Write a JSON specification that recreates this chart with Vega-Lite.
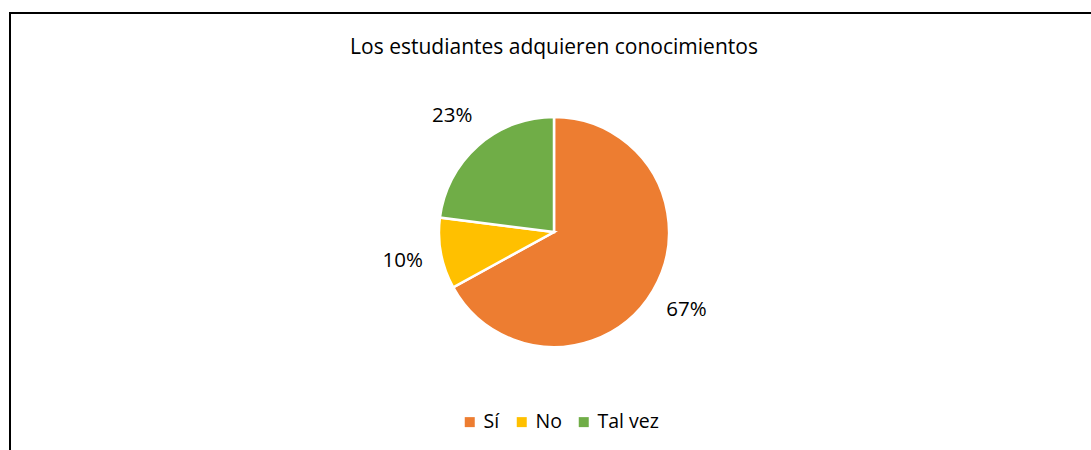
{
  "$schema": "https://vega.github.io/schema/vega-lite/v6.json",
  "autosize": "none",
  "width": 1088,
  "height": 438,
  "padding": {"left": 10, "top": 13, "right": 0, "bottom": 0},
  "background": "white",
  "view": {"stroke": "black", "strokeWidth": 2, "fill": "white"},
  "config": {
    "view": {"stroke": "black", "strokeWidth": 2},
    "font": "Open Sans"
  },
  "title": {
    "text": "Los estudiantes adquieren conocimientos",
    "font": "Open Sans",
    "fontSize": 21,
    "fontWeight": "normal",
    "color": "#000000",
    "anchor": "middle",
    "frame": "group",
    "baseline": "alphabetic",
    "offset": -62
  },
  "data": {
    "values": [
      {"respuesta": "Sí", "porcentaje": 67, "etiqueta": "67%", "orden": 1},
      {"respuesta": "No", "porcentaje": 10, "etiqueta": "10%", "orden": 2},
      {"respuesta": "Tal vez", "porcentaje": 23, "etiqueta": "23%", "orden": 3}
    ]
  },
  "encoding": {
    "theta": {"field": "porcentaje", "type": "quantitative", "stack": true},
    "order": {"field": "orden", "type": "quantitative"},
    "color": {
      "field": "respuesta",
      "type": "nominal",
      "scale": {"domain": ["Sí", "No", "Tal vez"], "range": ["#ED7D31", "#FFC000", "#70AD47"]},
      "legend": {
        "title": null,
        "orient": "none",
        "direction": "horizontal",
        "legendX": 450,
        "legendY": 399,
        "symbolType": "square",
        "symbolSize": 100,
        "symbolStrokeWidth": 0,
        "labelFont": "Open Sans",
        "labelFontSize": 19.5,
        "labelColor": "#000000",
        "labelOffset": 4,
        "columnPadding": 12
      }
    }
  },
  "layer": [
    {
      "mark": {"type": "arc", "outerRadius": 115, "stroke": "white", "strokeWidth": 2.5}
    },
    {
      "mark": {"type": "text", "radius": 154, "fontSize": 20.5, "font": "Open Sans", "color": "#000000"},
      "encoding": {"text": {"field": "etiqueta"}, "color": {"value": "#000000"}}
    }
  ]
}
